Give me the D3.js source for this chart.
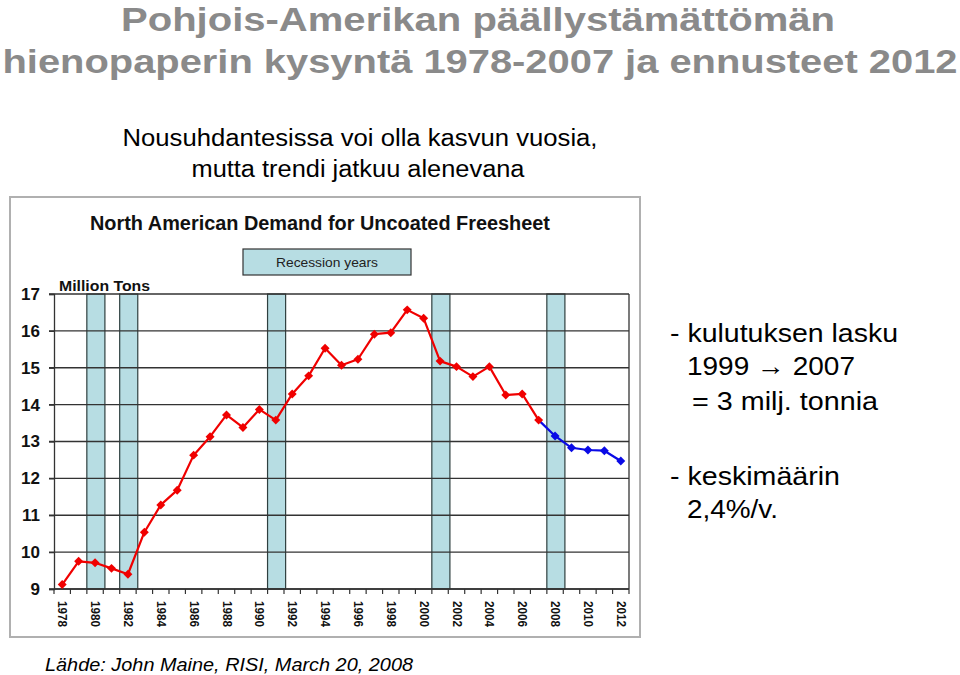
<!DOCTYPE html>
<html>
<head>
<meta charset="utf-8">
<script src="https://cdn.jsdelivr.net/npm/d3@7"></script>
<style>
  html, body { margin: 0; padding: 0; background: #fff; }
  svg { display: block; }
  text { font-family: "Liberation Sans", Arial, Helvetica, sans-serif; }
</style>
</head>
<body>
<svg id="chart" width="960" height="675"></svg>
<script>
// ---- Data ----
const years = d3.range(1978, 2013);
const actualYears = d3.range(1978, 2008);
const actualValues = [9.12, 9.75, 9.71, 9.56, 9.40, 10.54, 11.28, 11.68, 12.63, 13.13,
  13.72, 13.38, 13.87, 13.58, 14.29, 14.78, 15.53, 15.07, 15.23, 15.91,
  15.95, 16.57, 16.34, 15.18, 15.03, 14.76, 15.03, 14.26, 14.29, 13.58];
const forecastYears = [2007, 2008, 2009, 2010, 2011, 2012];
const forecastValues = [13.58, 13.15, 12.83, 12.77, 12.75, 12.47];
const recessionYears = [1980, 1982, 1991, 2001, 2008];
const yTicks = [9, 10, 11, 12, 13, 14, 15, 16, 17];
const xLabelYears = d3.range(1978, 2013, 2);

const svg = d3.select("#chart");

// ---- Page texts ----
const titleColor = "#8a8a8a";
svg.append("text").attr("x", 478).attr("y", 31).attr("text-anchor", "middle")
  .attr("font-size", 33).attr("font-weight", "bold").attr("fill", titleColor)
  .attr("textLength", 714).attr("lengthAdjust", "spacingAndGlyphs")
  .text("Pohjois-Amerikan päällystämättömän");
svg.append("text").attr("x", 480).attr("y", 73).attr("text-anchor", "middle")
  .attr("font-size", 34).attr("font-weight", "bold").attr("fill", titleColor)
  .attr("textLength", 955).attr("lengthAdjust", "spacingAndGlyphs")
  .text("hienopaperin kysyntä 1978-2007 ja ennusteet 2012");

svg.append("text").attr("x", 360).attr("y", 146).attr("text-anchor", "middle")
  .attr("font-size", 23).attr("fill", "#000")
  .attr("textLength", 475).attr("lengthAdjust", "spacingAndGlyphs")
  .text("Nousuhdantesissa voi olla kasvun vuosia,");
svg.append("text").attr("x", 358).attr("y", 177).attr("text-anchor", "middle")
  .attr("font-size", 23).attr("fill", "#000")
  .attr("textLength", 333).attr("lengthAdjust", "spacingAndGlyphs")
  .text("mutta trendi jatkuu alenevana");

const side = [
  { x: 670, y: 342, t: "- kulutuksen lasku", w: 228 },
  { x: 687, y: 375, t: "1999 \u2192 2007", w: 168 },
  { x: 692, y: 410, t: "= 3 milj. tonnia", w: 186 },
  { x: 670, y: 485, t: "- keskimäärin", w: 170 },
  { x: 687, y: 518, t: "2,4%/v.", w: 91 }
];
side.forEach(s => {
  svg.append("text").attr("x", s.x).attr("y", s.y).attr("font-size", 26)
    .attr("fill", "#000").attr("textLength", s.w).attr("lengthAdjust", "spacingAndGlyphs")
    .text(s.t);
});

svg.append("text").attr("x", 45).attr("y", 671).attr("font-size", 19)
  .attr("font-style", "italic").attr("fill", "#000")
  .attr("textLength", 368).attr("lengthAdjust", "spacingAndGlyphs")
  .text("Lähde: John Maine, RISI, March 20, 2008");

// ---- Chart frame ----
svg.append("rect").attr("x", 10).attr("y", 197).attr("width", 630).attr("height", 440)
  .attr("fill", "#fff").attr("stroke", "#b0b0b0").attr("stroke-width", 2);

svg.append("text").attr("x", 320).attr("y", 230).attr("text-anchor", "middle")
  .attr("font-size", 20).attr("font-weight", "bold").attr("fill", "#111")
  .attr("textLength", 460).attr("lengthAdjust", "spacingAndGlyphs")
  .text("North American Demand for Uncoated Freesheet");

// Legend box
svg.append("rect").attr("x", 243).attr("y", 249).attr("width", 168).attr("height", 26)
  .attr("fill", "#b7dde3").attr("stroke", "#333").attr("stroke-width", 1.2);
svg.append("text").attr("x", 327).attr("y", 267).attr("text-anchor", "middle")
  .attr("font-size", 13).attr("fill", "#222")
  .attr("textLength", 102).attr("lengthAdjust", "spacingAndGlyphs")
  .text("Recession years");

svg.append("text").attr("x", 59).attr("y", 291).attr("font-size", 15)
  .attr("font-weight", "bold").attr("fill", "#111")
  .attr("textLength", 91).attr("lengthAdjust", "spacingAndGlyphs")
  .text("Million Tons");

// ---- Scales ----
const x = d3.scaleBand().domain(years).range([54, 629]).padding(0);
const y = d3.scaleLinear().domain([9, 17]).range([589, 294]);
const cx = yr => x(yr) + x.bandwidth() / 2;

// Recession bars
const bw = x.bandwidth() * 1.1;
svg.append("g").selectAll("rect").data(recessionYears).join("rect")
  .attr("x", d => cx(d) - bw / 2 + 0.8).attr("width", bw)
  .attr("y", y(17)).attr("height", y(9) - y(17))
  .attr("fill", "#b7dde3").attr("stroke", "#2f3f3f").attr("stroke-width", 1.2);

// Gridlines
const gridColor = "#333";
svg.append("g").selectAll("line").data(yTicks).join("line")
  .attr("x1", 49).attr("x2", 629)
  .attr("y1", d => y(d)).attr("y2", d => y(d))
  .attr("stroke", gridColor).attr("stroke-width", 1.3);

// Right border of plot
svg.append("line").attr("x1", 629).attr("x2", 629).attr("y1", y(17)).attr("y2", y(9))
  .attr("stroke", gridColor).attr("stroke-width", 1.3);

// Y axis
const yAxis = svg.append("g").attr("transform", "translate(54,0)")
  .call(d3.axisLeft(y).tickValues(yTicks).tickSize(5).tickFormat(d3.format("d")));
yAxis.select(".domain").attr("stroke", gridColor).attr("stroke-width", 1.3);
yAxis.selectAll(".tick line").attr("stroke", gridColor).attr("stroke-width", 1.3);
yAxis.selectAll(".tick text").attr("x", -14).attr("font-size", 17).attr("font-weight", "bold")
  .attr("fill", "#111").attr("font-family", "'Liberation Sans', Arial, sans-serif");

// X axis with ticks on band boundaries
const boundaries = d3.range(0, years.length + 1).map(i => 54 + i * x.bandwidth());
svg.append("g").selectAll("line").data(boundaries).join("line")
  .attr("x1", d => d).attr("x2", d => d).attr("y1", 589).attr("y2", 594)
  .attr("stroke", gridColor).attr("stroke-width", 1.2);
svg.append("line").attr("x1", 54).attr("x2", 629).attr("y1", 589).attr("y2", 589)
  .attr("stroke", gridColor).attr("stroke-width", 1.4);

svg.append("g").selectAll("text").data(xLabelYears).join("text")
  .attr("transform", d => `translate(${cx(d)},601) rotate(90)`)
  .attr("dominant-baseline", "central")
  .attr("font-size", 12).attr("font-weight", "bold").attr("fill", "#111")
  .attr("textLength", 26).attr("lengthAdjust", "spacingAndGlyphs")
  .text(d => d);

// ---- Lines ----
const line = d3.line().x(d => cx(d[0])).y(d => y(d[1]));
const diamond = d3.symbol().type(d3.symbolSquare).size(40);

function drawSeries(yrs, vals, color, skipFirstMarker) {
  const pts = yrs.map((yr, i) => [yr, vals[i]]);
  svg.append("path").datum(pts).attr("d", line)
    .attr("fill", "none").attr("stroke", color).attr("stroke-width", 2.2)
    .attr("stroke-linejoin", "round");
  svg.append("g").selectAll("path").data(skipFirstMarker ? pts.slice(1) : pts).join("path")
    .attr("d", diamond)
    .attr("transform", d => `translate(${cx(d[0])},${y(d[1])}) rotate(45)`)
    .attr("fill", color);
}
drawSeries(forecastYears, forecastValues, "#0a0ae6", true);
drawSeries(actualYears, actualValues, "#f00000", false);
</script>
</body>
</html>
